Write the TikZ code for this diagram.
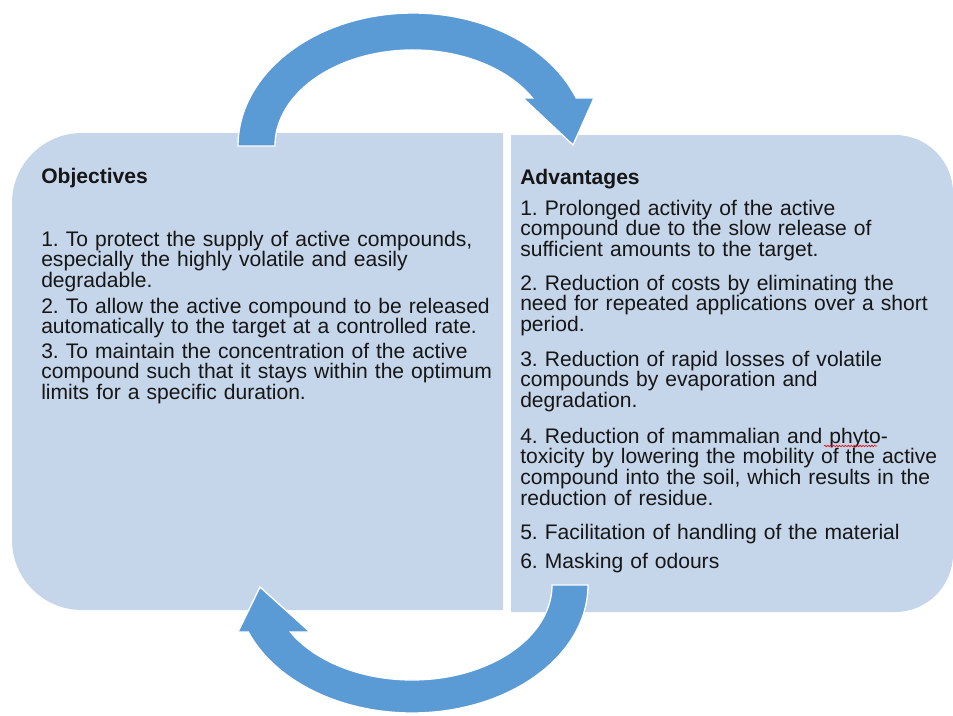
\documentclass[tikz,border=0pt]{standalone}
\usepackage{fontspec}
\setmainfont{Liberation Sans}
\usetikzlibrary{decorations.pathmorphing}
\definecolor{panelblue}{HTML}{C5D5EA}
\definecolor{arrowblue}{HTML}{5B9BD5}
\definecolor{inkgray}{HTML}{161616}
\frenchspacing
\begin{document}
\begin{tikzpicture}[x=0.75pt,y=-0.75pt,
  panel/.style={fill=panelblue},
  cyclearrow/.style={fill=arrowblue,draw=white,line width=1pt,line join=miter},
  body/.style={anchor=base west,inner sep=0pt,text width=345pt,align=left,
    text=inkgray,font=\fontsize{15.8}{15.6}\selectfont},
  heading/.style={body,font=\fontsize{15.8}{15.6}\selectfont\bfseries},
  spell/.style={draw=red,line width=0.45pt,decorate,
    decoration={snake,amplitude=0.55pt,segment length=2.2pt}}]
\useasboundingbox (0,0) rectangle (953,715);

% left panel: rounded on its outer (left) side
\fill[panel] (503,133) -- (82,133) arc[start angle=270,end angle=180,radius=70]
  -- (12,540) arc[start angle=180,end angle=90,radius=70] -- (503,610) -- cycle;
% right panel: rounded on its outer (right) side
\fill[panel] (511,135) -- (895,135) arc[start angle=270,end angle=360,radius=58]
  -- (953,554) arc[start angle=0,end angle=90,radius=58] -- (511,612) -- cycle;

% upper curved arrow, left panel -> right panel
\filldraw[cyclearrow] (238,146) arc[start angle=180,end angle=338.8,x radius=175,y radius=133]
  -- (594,98) -- (573,145) -- (523,98) -- (532.5,98)
  arc[start angle=330,end angle=180,x radius=138,y radius=96] -- cycle;
% lower curved arrow, right panel -> left panel
\filldraw[cyclearrow] (588,585) arc[start angle=0,end angle=158.5,x radius=176,y radius=128]
  -- (238,632) -- (260,587) -- (310,632) -- (290.4,632)
  arc[start angle=150.3,end angle=0,x radius=140,y radius=95] -- cycle;

% objectives
\node[heading] (objtitle) at (41,183) {Objectives};
\node[body] (obj1) at (41,246) {1. To protect the supply of active compounds,\\especially the highly volatile and easily\\degradable.};
\node[body] (obj2) at (41,313) {2. To allow the active compound to be released\\automatically to the target at a controlled rate.};
\node[body] (obj3) at (41,358) {3. To maintain the concentration of the active\\compound such that it stays within the optimum\\limits for a specific duration.};

% advantages
\node[heading] (advtitle) at (520,184) {Advantages};
\node[body] (adv1) at (520,215) {1. Prolonged activity of the active\\compound due to the slow release of\\sufficient amounts to the target.};
\node[body] (adv2) at (520,290) {2. Reduction of costs by eliminating the\\need for repeated applications over a short\\period.};
\node[body] (adv3) at (520,366) {3. Reduction of rapid losses of volatile\\compounds by evaporation and\\degradation.};
\node[body] (adv4) at (520,443) {4. Reduction of mammalian and phyto-\\toxicity by lowering the mobility of the active\\compound into the soil, which results in the\\reduction of residue.};
\node[body] (adv5) at (520,539) {5. Facilitation of handling of the material};
\node[body] (adv6) at (520,568) {6. Masking of odours};

% spell-check mark under "phyto"
\draw[spell] (824,446) -- (877,446);
\end{tikzpicture}
\end{document}
